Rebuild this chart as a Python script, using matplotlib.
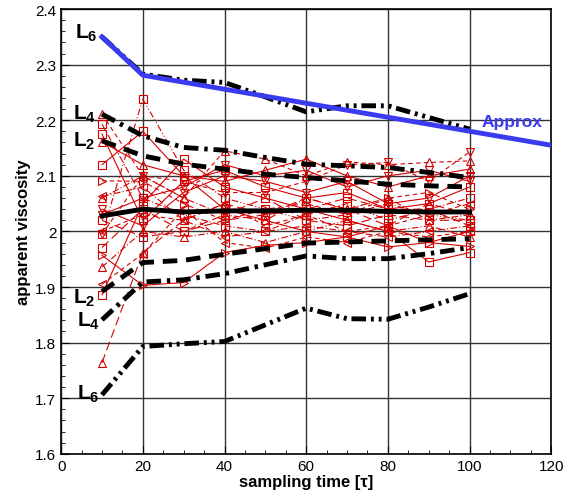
import numpy as np
import matplotlib
matplotlib.use("Agg")
from matplotlib import pyplot as plt
from matplotlib.ticker import MultipleLocator, FuncFormatter

plt.rcParams['font.family'] = ['Liberation Sans', 'DejaVu Sans']
plt.rcParams['mathtext.fontset'] = 'custom'
plt.rcParams['mathtext.rm'] = 'Liberation Sans'
plt.rcParams['mathtext.bf'] = 'Liberation Sans:bold'

# sampling times
t = [10, 20, 30, 40, 50, 60, 70, 80, 90, 100]

# black statistics lines
mean = [2.028, 2.040, 2.035, 2.037, 2.037, 2.038, 2.038, 2.036, 2.035, 2.035]
L2_up = [2.163, 2.136, 2.121, 2.112, 2.103, 2.097, 2.091, 2.085, 2.082, 2.080]
L2_lo = [1.892, 1.944, 1.948, 1.959, 1.969, 1.979, 1.981, 1.983, 1.985, 1.987]
L4_up = [2.211, 2.172, 2.151, 2.146, 2.133, 2.121, 2.118, 2.115, 2.106, 2.097]
L4_lo = [1.841, 1.909, 1.913, 1.924, 1.940, 1.956, 1.951, 1.951, 1.960, 1.971]
L6_up = [2.350, 2.283, 2.272, 2.268, 2.242, 2.215, 2.226, 2.226, 2.205, 2.184]
L6_lo = [1.706, 1.793, 1.798, 1.802, 1.832, 1.862, 1.843, 1.842, 1.864, 1.888]

# blue approximation
approx_x = [10, 20, 120]
approx_y = [2.350, 2.281, 2.155]

# individual runs (red)
runs = [
    [1.995, 2.238, 2.110, 2.060, 2.040, 2.020, 2.030, 2.050, 2.030, 2.020],
    [1.764, 1.962, 2.020, 2.050, 2.030, 2.060, 2.040, 2.010, 2.050, 2.030],
    [1.957, 1.903, 1.908, 1.962, 1.975, 1.980, 1.990, 1.972, 1.980, 1.973],
    [1.886, 2.050, 2.130, 2.080, 2.060, 2.040, 2.020, 2.000, 1.945, 1.962],
    [2.211, 2.100, 2.060, 2.145, 2.130, 2.100, 2.125, 2.120, 2.124, 2.127],
    [2.193, 2.060, 2.030, 2.010, 2.000, 2.030, 2.050, 2.020, 2.040, 2.060],
    [2.175, 2.020, 2.090, 2.110, 2.080, 2.060, 2.070, 2.040, 2.050, 2.080],
    [2.161, 2.120, 2.100, 2.090, 2.110, 2.130, 2.100, 2.080, 2.100, 2.112],
    [2.120, 2.180, 2.100, 2.040, 2.020, 2.000, 1.990, 2.010, 1.980, 2.000],
    [2.091, 2.090, 2.050, 2.020, 2.040, 2.050, 2.030, 2.060, 2.070, 2.040],
    [2.063, 2.080, 2.020, 1.990, 2.000, 2.010, 2.000, 1.990, 2.000, 2.010],
    [1.995, 2.100, 2.090, 2.070, 2.070, 2.090, 2.120, 2.124, 2.090, 2.143],
    [1.971, 2.040, 2.000, 2.030, 2.060, 2.020, 2.010, 2.030, 2.020, 2.020],
    [1.936, 2.000, 1.990, 2.000, 1.980, 2.000, 2.020, 2.000, 2.010, 1.990],
    [1.905, 1.960, 2.040, 1.980, 1.970, 1.990, 1.980, 2.000, 1.990, 2.000],
    [2.040, 2.010, 2.070, 2.100, 2.090, 2.070, 2.090, 2.050, 2.060, 2.100],
    [2.030, 2.060, 2.080, 2.120, 2.100, 2.110, 2.080, 2.100, 2.110, 2.090],
    [2.000, 2.030, 2.020, 2.050, 2.010, 2.030, 2.000, 2.010, 2.030, 2.050],
    [2.060, 2.100, 2.060, 2.030, 2.020, 2.060, 2.040, 2.060, 2.020, 2.030],
    [2.020, 1.990, 2.000, 2.020, 2.030, 2.040, 2.060, 2.040, 2.040, 2.010],
]
run_markers = ['s', '^', '>', 's', '^', 's', 's', '^', 's', '>', '<', 'v', 's', '^', '<', 'v',
               'v', '<', '^', 's']
run_styles = [(0, (6, 2, 1, 2, 1, 2)), (0, (8, 4)), '-', '-', (0, (4, 3)), (0, (6, 2, 1, 2)),
              '-', '-', '-', (0, (4, 3)), (0, (6, 2, 1, 2)), (0, (4, 3)), (0, (8, 4)),
              (0, (6, 2, 1, 2)), (0, (4, 3)), '-', '-', (0, (4, 3)), (0, (6, 2, 1, 2)),
              (0, (8, 4))]

fig = plt.figure(figsize=(5.66, 5.02), dpi=100)
ax = fig.add_axes([0.108, 0.094, 0.866, 0.886])

red = '#d40000'
for r, m, ls in zip(runs, run_markers, run_styles):
    ax.plot(t, r, color=red, lw=0.8, linestyle=ls, marker=m, ms=6,
            mfc='none', mec=red, mew=0.8, zorder=3)

ax.plot(t, mean, color='black', lw=3.5, zorder=4)
ax.plot(t, L2_up, color='black', lw=3.5, linestyle=(0, (3, 1.8)), zorder=4)
ax.plot(t, L2_lo, color='black', lw=3.5, linestyle=(0, (3, 1.8)), zorder=4)
ax.plot(t, L4_up, color='black', lw=3.5, linestyle=(0, (3, 1.2, 0.7, 1.2)), zorder=4)
ax.plot(t, L4_lo, color='black', lw=3.5, linestyle=(0, (3, 1.2, 0.7, 1.2)), zorder=4)
ax.plot(t, L6_up, color='black', lw=3.5, linestyle=(0, (3, 1, 0.6, 1, 0.6, 1)), zorder=4)
ax.plot(t, L6_lo, color='black', lw=3.5, linestyle=(0, (3, 1, 0.6, 1, 0.6, 1)), zorder=4)
ax.plot(approx_x, approx_y, color='#3a3af0', lw=3.5, zorder=5)

lab = dict(fontsize=15, fontweight='bold', ha='right', va='center', zorder=6)
ax.text(9.0, 2.358, r'$\mathbf{L_6}$', **lab)
ax.text(8.5, 2.213, r'$\mathbf{L_4}$', **lab)
ax.text(8.5, 2.164, r'$\mathbf{L_2}$', **lab)
ax.text(8.5, 1.882, r'$\mathbf{L_2}$', **lab)
ax.text(9.5, 1.840, r'$\mathbf{L_4}$', **lab)
ax.text(9.5, 1.708, r'$\mathbf{L_6}$', **lab)
ax.text(110.5, 2.198, 'Approx', color='#3a3af0', fontsize=12.5, fontweight='bold',
        ha='center', va='center', zorder=6)

ax.set_xlim(0, 120)
ax.set_ylim(1.6, 2.4)
ax.xaxis.set_major_locator(MultipleLocator(20))
ax.xaxis.set_minor_locator(MultipleLocator(5))
ax.yaxis.set_major_locator(MultipleLocator(0.1))
ax.yaxis.set_minor_locator(MultipleLocator(0.02))
ax.yaxis.set_major_formatter(FuncFormatter(lambda v, p: f'{v:g}'))
ax.tick_params(which='both', direction='in', labelsize=11)
ax.tick_params(which='major', length=6)
ax.tick_params(which='minor', length=3)
ax.grid(True, which='major', color='#333333', lw=1.0)
ax.set_axisbelow(True)
for s in ax.spines.values():
    s.set_linewidth(1.2)

ax.set_xlabel('sampling time [τ]', fontsize=12, fontweight='bold', labelpad=1)
ax.set_ylabel('apparent viscosity', fontsize=12, fontweight='bold', labelpad=3)

fig.savefig('out.png', dpi=100)
